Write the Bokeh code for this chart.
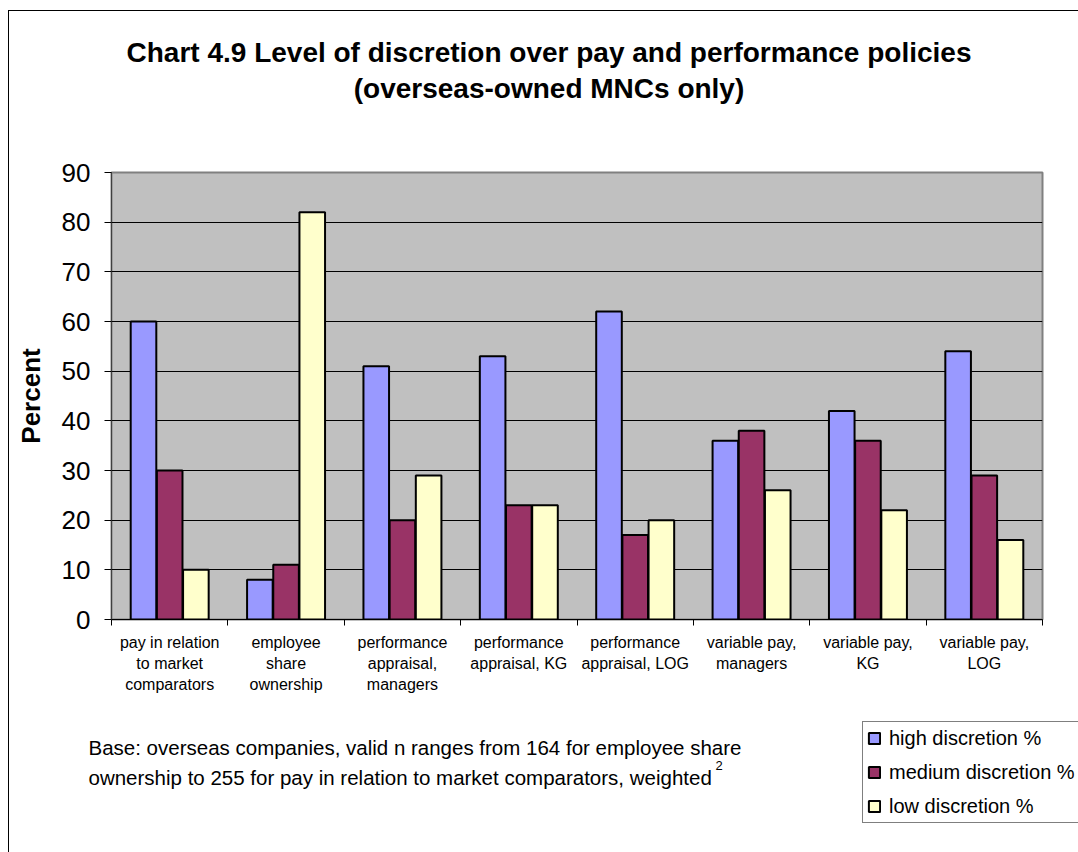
from bokeh.plotting import figure
from bokeh.layouts import column
from bokeh.models import (Range1d, FixedTicker, Label, Legend, LegendItem,
                          ColumnDataSource)
from bokeh.embed import file_html
from bokeh.resources import INLINE

# ---------------- data ----------------
categories = [
    "pay in relation\nto market\ncomparators",
    "employee\nshare\nownership",
    "performance\nappraisal,\nmanagers",
    "performance\nappraisal, KG",
    "performance\nappraisal, LOG",
    "variable pay,\nmanagers",
    "variable pay,\nKG",
    "variable pay,\nLOG",
]
high = [60, 8, 51, 53, 62, 36, 42, 54]
medium = [30, 11, 20, 23, 17, 38, 36, 29]
low = [10, 82, 29, 23, 20, 26, 22, 16]
series_names = ["high discretion %", "medium discretion %", "low discretion %"]
series_colors = ["#9999FF", "#993366", "#FFFFCC"]
y_ticks = [0, 10, 20, 30, 40, 50, 60, 70, 80, 90]

title_lines = ["Chart 4.9 Level of discretion over pay and performance policies",
               "(overseas-owned MNCs only)"]
note_lines = ["Base: overseas companies, valid n ranges from 164 for employee share",
              "ownership to 255 for pay in relation to market comparators, weighted"]
note_sup = "2"

FONT = "Liberation Sans"

# ---------------- layout geometry (px) ----------------
OX, OY = 9, 11            # content origin on the page (inside chart border)
W = 1078 - OX
H_TITLE = 140 - OY
H_CHART = 715 - 140
H_BOTTOM = 852 - 715
FL, FR, FT, FB = 111 - OX, 1078 - 1042, 172 - 140, 715 - 619


def bare_figure(h):
    f = figure(width=W, height=h, x_range=Range1d(0, W), y_range=Range1d(h, 0),
               output_backend="svg", toolbar_location=None,
               x_axis_type=None, y_axis_type=None, frame_align=False,
               min_border=0, min_border_left=0, min_border_right=0,
               min_border_top=0, min_border_bottom=0)
    f.xgrid.visible = False
    f.ygrid.visible = False
    f.outline_line_color = None
    f.background_fill_color = "white"
    f.border_fill_color = "white"
    return f


# ---------------- title strip ----------------
ft = bare_figure(H_TITLE)
for txt, y in zip(title_lines, [52 - OY, 88 - OY]):
    ft.add_layout(Label(x=548.5 - OX, y=y, text=txt, text_align="center",
                        text_baseline="middle", text_font=FONT,
                        text_font_size="28px", text_font_style="bold",
                        text_color="black"))

# ---------------- chart ----------------
n = len(categories)
p = figure(width=W, height=H_CHART, x_range=Range1d(0, n),
           y_range=Range1d(0, y_ticks[-1]),
           output_backend="svg", toolbar_location=None, frame_align=False,
           min_border_left=FL, min_border_right=FR,
           min_border_top=FT, min_border_bottom=FB)
p.background_fill_color = "#C0C0C0"
p.border_fill_color = "white"
p.outline_line_color = "#808080"
p.outline_line_width = 2

centers = [i + 0.5 for i in range(n)]
offsets = [-0.225, 0.0, 0.225]
bar_w = 0.22
for vals, off, col in zip([high, medium, low], offsets, series_colors):
    src = ColumnDataSource(dict(x=[c + off for c in centers], top=vals))
    p.vbar(x="x", top="top", width=bar_w, bottom=0, source=src,
           fill_color=col, line_color="black", line_width=2)

p.xgrid.visible = False
p.ygrid.grid_line_color = "black"
p.ygrid.grid_line_width = 1

p.yaxis.ticker = FixedTicker(ticks=y_ticks)
p.yaxis.major_label_text_font = FONT
p.yaxis.major_label_text_font_size = "26px"
p.yaxis.major_label_text_color = "black"
p.yaxis.major_tick_out = 7
p.yaxis.major_tick_in = 0
p.yaxis.major_tick_line_color = "black"
p.yaxis.minor_tick_line_color = None
p.yaxis.axis_line_color = "#404040"
p.yaxis.major_label_standoff = 14
p.yaxis.axis_label = "Percent"
p.yaxis.axis_label_text_font = FONT
p.yaxis.axis_label_text_font_size = "26px"
p.yaxis.axis_label_text_font_style = "bold"
p.yaxis.axis_label_text_color = "black"
p.yaxis.axis_label_standoff = 13

p.xaxis.ticker = FixedTicker(ticks=centers, minor_ticks=list(range(n + 1)))
p.xaxis.major_label_overrides = {c: lab for c, lab in zip(centers, categories)}
p.xaxis.major_label_text_font = FONT
p.xaxis.major_label_text_font_size = "16px"
p.xaxis.major_label_text_color = "black"
p.xaxis.major_label_text_line_height = 1.25
p.xaxis.major_tick_out = 0
p.xaxis.major_tick_in = 0
p.xaxis.major_tick_line_color = None
p.xaxis.minor_tick_out = 6
p.xaxis.minor_tick_in = 0
p.xaxis.minor_tick_line_color = "black"
p.xaxis.axis_line_color = "black"
p.xaxis.major_label_standoff = 8

# ---------------- bottom strip: note + legend ----------------
fb = bare_figure(H_BOTTOM)
for txt, y in zip(note_lines, [747 - 715, 777 - 715]):
    fb.add_layout(Label(x=88 - OX, y=y, text=txt, text_align="left",
                        text_baseline="middle", text_font=FONT,
                        text_font_size="20.5px", text_color="black"))
fb.add_layout(Label(x=715 - OX, y=765 - 715, text=note_sup, text_align="left",
                    text_baseline="middle", text_font=FONT,
                    text_font_size="13px", text_color="black"))

# legend swatch renderers: one tiny bar each, hidden beneath the legend box
legend_renderers = []
for col in series_colors:
    src = ColumnDataSource(dict(x=[1000], top=[61]))
    r = fb.vbar(x="x", top="top", width=1, bottom=60, source=src,
                fill_color=col, line_color="black", line_width=2)
    legend_renderers.append(r)

legend = Legend(items=[LegendItem(label=nm, renderers=[r])
                       for nm, r in zip(series_names, legend_renderers)],
                location=(862 - OX, 852 - 823))
legend.border_line_color = "black"
legend.border_line_width = 1
legend.background_fill_color = "white"
legend.background_fill_alpha = 1
legend.label_text_font = FONT
legend.label_text_font_size = "20px"
legend.label_text_color = "black"
legend.glyph_width = 14
legend.glyph_height = 14
legend.label_standoff = 8
legend.label_height = 24
legend.spacing = 10
legend.padding = 4
legend.margin = 0
fb.add_layout(legend)

layout = column(ft, p, fb, spacing=0,
                styles={"margin-left": "8px", "margin-top": "10px",
                        "border-left": "1px solid black",
                        "border-top": "1px solid black"})

open("out.html", "w").write(file_html(layout, INLINE))
